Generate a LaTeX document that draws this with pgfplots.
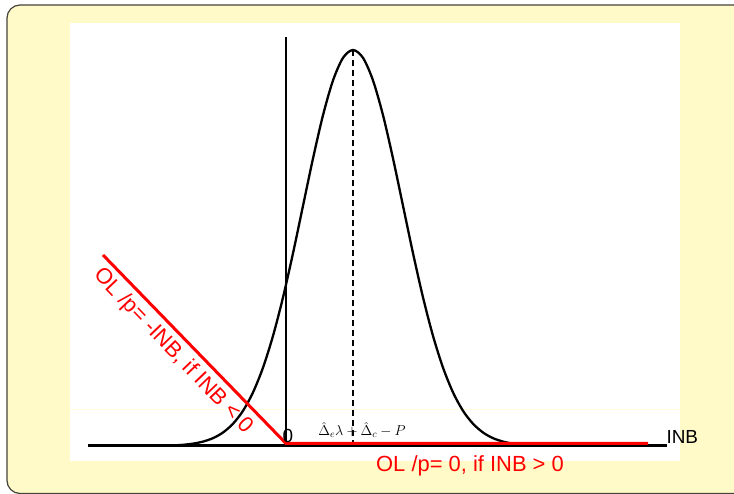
\documentclass[border=0pt]{standalone}
\usepackage{fontspec}
\setmainfont{Liberation Sans}
\usepackage{pgfplots}
\pgfplotsset{compat=1.18}
\definecolor{bgyellow}{RGB}{255,250,200}
\definecolor{frame}{RGB}{70,66,60}
\definecolor{olred}{RGB}{255,0,0}

% normal density, sd = 1, mean at 1.34, peak scaled to 7.92
\pgfplotstableread{
x y
-2.66 0.003
-2.46 0.006
-2.26 0.012
-2.06 0.024
-1.86 0.047
-1.66 0.088
-1.46 0.157
-1.26 0.270
-1.06 0.445
-0.86 0.704
-0.66 1.072
-0.46 1.567
-0.26 2.202
-0.06 2.972
0.14 3.855
0.34 4.804
0.54 5.751
0.74 6.616
0.94 7.311
1.14 7.763
1.34 7.920
1.54 7.763
1.74 7.311
1.94 6.616
2.14 5.751
2.34 4.804
2.54 3.855
2.74 2.972
2.94 2.202
3.14 1.567
3.34 1.072
3.54 0.704
3.74 0.445
3.94 0.270
4.14 0.157
4.34 0.088
4.54 0.047
4.74 0.024
4.94 0.012
5.14 0.006
5.34 0.003
}\density

\begin{document}
\begin{tikzpicture}[x=1bp,y=1bp]
\useasboundingbox (0,0) rectangle (734,494);
\clip (0,0) rectangle (734,494);
% block background
\draw[fill=bgyellow, draw=frame, line width=1.2bp, rounded corners=13bp]
  (7,0.5) rectangle (770,489);
\fill[white] (70,33) rectangle (680,471);
\draw[yellow!12, line width=0.6bp] (70,85) -- (680,85);
\coordinate (SW) at (88,48);

\begin{axis}[
    at={(SW)}, anchor=south west,
    scale only axis,
    width=579bp, height=409bp,
    xmin=-3.96, xmax=7.62,
    ymin=0, ymax=8.18,
    hide axis,
    clip=false,
]
  \draw[black, line width=3bp] (axis cs:-3.96,0) -- (axis cs:7.62,0);
  \draw[black, line width=2.8bp] (axis cs:0,0) -- (axis cs:0,8.18);
  \addplot[black, line width=2.3bp, smooth, mark=none] table {\density};
  \addplot[black, line width=1.4bp, dash pattern=on 6bp off 4bp, mark=none]
    coordinates {(1.34,0) (1.34,7.92)};
  \addplot[olred, line width=3bp, mark=none]
    coordinates {(-3.66,3.82) (0,0.05) (7.24,0.05)};
\end{axis}

\node[olred, font=\fontsize{22}{24}\selectfont, rotate=-46.2]
  at (173,143) {OL /p= -INB, if INB < 0};
\node[olred, font=\fontsize{22}{24}\selectfont] at (470,28) {OL /p= 0, if INB > 0};
\node[font=\fontsize{19}{21}\selectfont, anchor=west] at (663,57) {INB};
\node[font=\fontsize{19}{21}\selectfont] at (288,58) {0};
\node[font=\fontsize{14}{16}\selectfont] at (362,64)
  {$\hat{\Delta}_e\lambda+\hat{\Delta}_c-P$};
\end{tikzpicture}
\end{document}
